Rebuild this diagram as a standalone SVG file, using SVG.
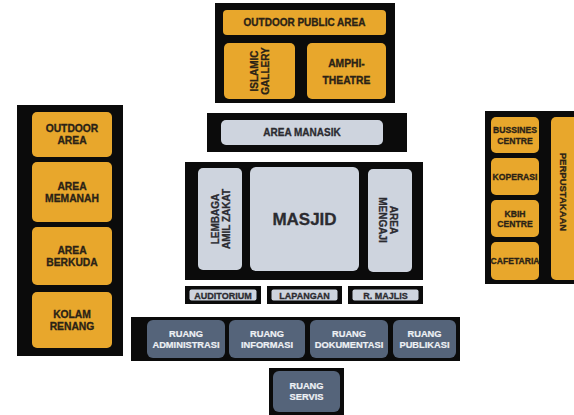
<svg xmlns="http://www.w3.org/2000/svg" width="574" height="415" viewBox="0 0 574 415">
<style>
.blk{fill:#0b0b0b}
.org{fill:#E8A72C}
.gry{fill:#CED4DE}
.sl{fill:#55647A}
text{font-family:"Liberation Sans",Arial,sans-serif;font-weight:bold;text-anchor:middle;dominant-baseline:central}
.t{fill:#2a2216;stroke:#2a2216;stroke-width:0.3;font-size:9px}
.tg{fill:#2b2b30;stroke:#2b2b30;stroke-width:0.3;font-size:9px}
.tw{fill:#eef1f5;stroke:#eef1f5;stroke-width:0.2;font-size:9.3px}
.s8{font-size:8.6px}
.s9{font-size:9px}
.s95{font-size:9.5px}
.s10{font-size:10px}
.s105{font-size:10.3px}
.big{font-size:17px}
</style>
<rect width="574" height="415" fill="#ffffff"/>

<g id="top-block">
<rect class="blk" x="215" y="3" width="180" height="100"/>
<g id="outdoor-public-area"><rect class="org" x="223" y="10" width="163" height="25" rx="4"/><text class="t s10" x="304.5" y="22.5">OUTDOOR PUBLIC AREA</text></g>
<g id="islamic-gallery"><rect class="org" x="224" y="43" width="71" height="56" rx="5"/>
<text class="t s10" transform="translate(259.5 71) rotate(-90)"><tspan x="0" y="-5.5">ISLAMIC</tspan><tspan x="0" y="5.5">GALLERY</tspan></text></g>
<g id="amphitheatre"><rect class="org" x="307" y="43" width="79" height="56" rx="5"/>
<text class="t s105"><tspan x="346.5" y="63">AMPHI-</tspan><tspan x="346.5" y="80">THEATRE</tspan></text></g>
</g>

<g id="area-manasik">
<rect class="blk" x="207" y="113" width="200" height="39"/>
<rect class="gry" x="221" y="120" width="162" height="25" rx="5"/>
<text class="tg s10" x="302" y="132.5">AREA MANASIK</text>
</g>

<g id="left-column">
<rect class="blk" x="17" y="105" width="106" height="251"/>
<g id="outdoor-area"><rect class="org" x="32" y="112" width="80" height="45" rx="5"/><text class="t s105"><tspan x="72" y="128">OUTDOOR</tspan><tspan x="72" y="140">AREA</tspan></text></g>
<g id="area-memanah"><rect class="org" x="32" y="162" width="80" height="60" rx="5"/><text class="t s105"><tspan x="72" y="186">AREA</tspan><tspan x="72" y="198">MEMANAH</tspan></text></g>
<g id="area-berkuda"><rect class="org" x="32" y="227" width="80" height="58" rx="5"/><text class="t s105"><tspan x="72" y="250">AREA</tspan><tspan x="72" y="262">BERKUDA</tspan></text></g>
<g id="kolam-renang"><rect class="org" x="32" y="292" width="80" height="56" rx="5"/><text class="t s105"><tspan x="72" y="314">KOLAM</tspan><tspan x="72" y="326">RENANG</tspan></text></g>
</g>

<g id="right-column">
<rect class="blk" x="485" y="111" width="89" height="173"/>
<g id="bussines-centre"><rect class="org" x="491" y="117" width="48" height="36" rx="5"/><text class="t s8"><tspan x="515" y="130">BUSSINES</tspan><tspan x="515" y="140.5">CENTRE</tspan></text></g>
<g id="koperasi"><rect class="org" x="491" y="158" width="48" height="37" rx="5"/><text class="t s8" x="515" y="176.5">KOPERASI</text></g>
<g id="kbih-centre"><rect class="org" x="491" y="200" width="48" height="37" rx="5"/><text class="t s8"><tspan x="515" y="213.5">KBIH</tspan><tspan x="515" y="224">CENTRE</tspan></text></g>
<g id="cafetaria"><rect class="org" x="491" y="242" width="48" height="38" rx="5"/><text class="t s8" x="515" y="261">CAFETARIA</text></g>
<g id="perpustakaan"><rect class="org" x="551" y="117" width="34" height="163" rx="5"/><text class="t s95" transform="translate(563 192) rotate(90)" x="0" y="0">PERPUSTAKAAN</text></g>
</g>

<g id="masjid-block">
<rect class="blk" x="185" y="162" width="238" height="118"/>
<g id="lembaga-amil-zakat"><rect class="gry" x="198" y="168" width="44" height="102" rx="5"/>
<text class="tg s10" transform="translate(220 219) rotate(-90)"><tspan x="0" y="-5.5">LEMBAGA</tspan><tspan x="0" y="5.5">AMIL ZAKAT</tspan></text></g>
<g id="masjid"><rect class="gry" x="250" y="167" width="109" height="104" rx="6"/><text class="tg big" x="304.5" y="219">MASJID</text></g>
<g id="area-mengaji"><rect class="gry" x="368" y="169" width="44" height="103" rx="5"/>
<text class="tg s10" transform="translate(388 220) rotate(90)"><tspan x="0" y="-5.5">AREA</tspan><tspan x="0" y="5.5">MENGAJI</tspan></text></g>
</g>

<g id="auditorium"><rect class="blk" x="185" y="286" width="76" height="18"/><rect class="gry" x="189.5" y="289.5" width="67" height="11" rx="2"/><text class="tg s9" x="223" y="295.5">AUDITORIUM</text></g>
<g id="lapangan"><rect class="blk" x="267" y="286" width="75" height="18"/><rect class="gry" x="271.5" y="289.5" width="66" height="11" rx="2"/><text class="tg s9" x="304.5" y="295.5">LAPANGAN</text></g>
<g id="r-majlis"><rect class="blk" x="348" y="286" width="75" height="18"/><rect class="gry" x="352.5" y="289.5" width="66" height="11" rx="2"/><text class="tg s9" x="385.5" y="295.5">R. MAJLIS</text></g>

<g id="ruang-row">
<rect class="blk" x="131" y="317" width="329" height="44"/>
<g id="ruang-administrasi"><rect class="sl" x="147" y="320" width="78" height="38" rx="6"/><text class="tw"><tspan x="186" y="333.5">RUANG</tspan><tspan x="186" y="345">ADMINISTRASI</tspan></text></g>
<g id="ruang-informasi"><rect class="sl" x="229" y="320" width="76" height="38" rx="6"/><text class="tw"><tspan x="267" y="333.5">RUANG</tspan><tspan x="267" y="345">INFORMASI</tspan></text></g>
<g id="ruang-dokumentasi"><rect class="sl" x="310" y="320" width="78" height="38" rx="6"/><text class="tw"><tspan x="349" y="333.5">RUANG</tspan><tspan x="349" y="345">DOKUMENTASI</tspan></text></g>
<g id="ruang-publikasi"><rect class="sl" x="393" y="320" width="63" height="38" rx="6"/><text class="tw"><tspan x="424.5" y="333.5">RUANG</tspan><tspan x="424.5" y="345">PUBLIKASI</tspan></text></g>
</g>

<g id="ruang-servis">
<rect class="blk" x="269" y="368" width="75" height="47"/>
<rect class="sl" x="273" y="371" width="67" height="41" rx="6"/>
<text class="tw"><tspan x="306.5" y="385.5">RUANG</tspan><tspan x="306.5" y="397">SERVIS</tspan></text>
</g>
<g id="connectors"/>
</svg>
